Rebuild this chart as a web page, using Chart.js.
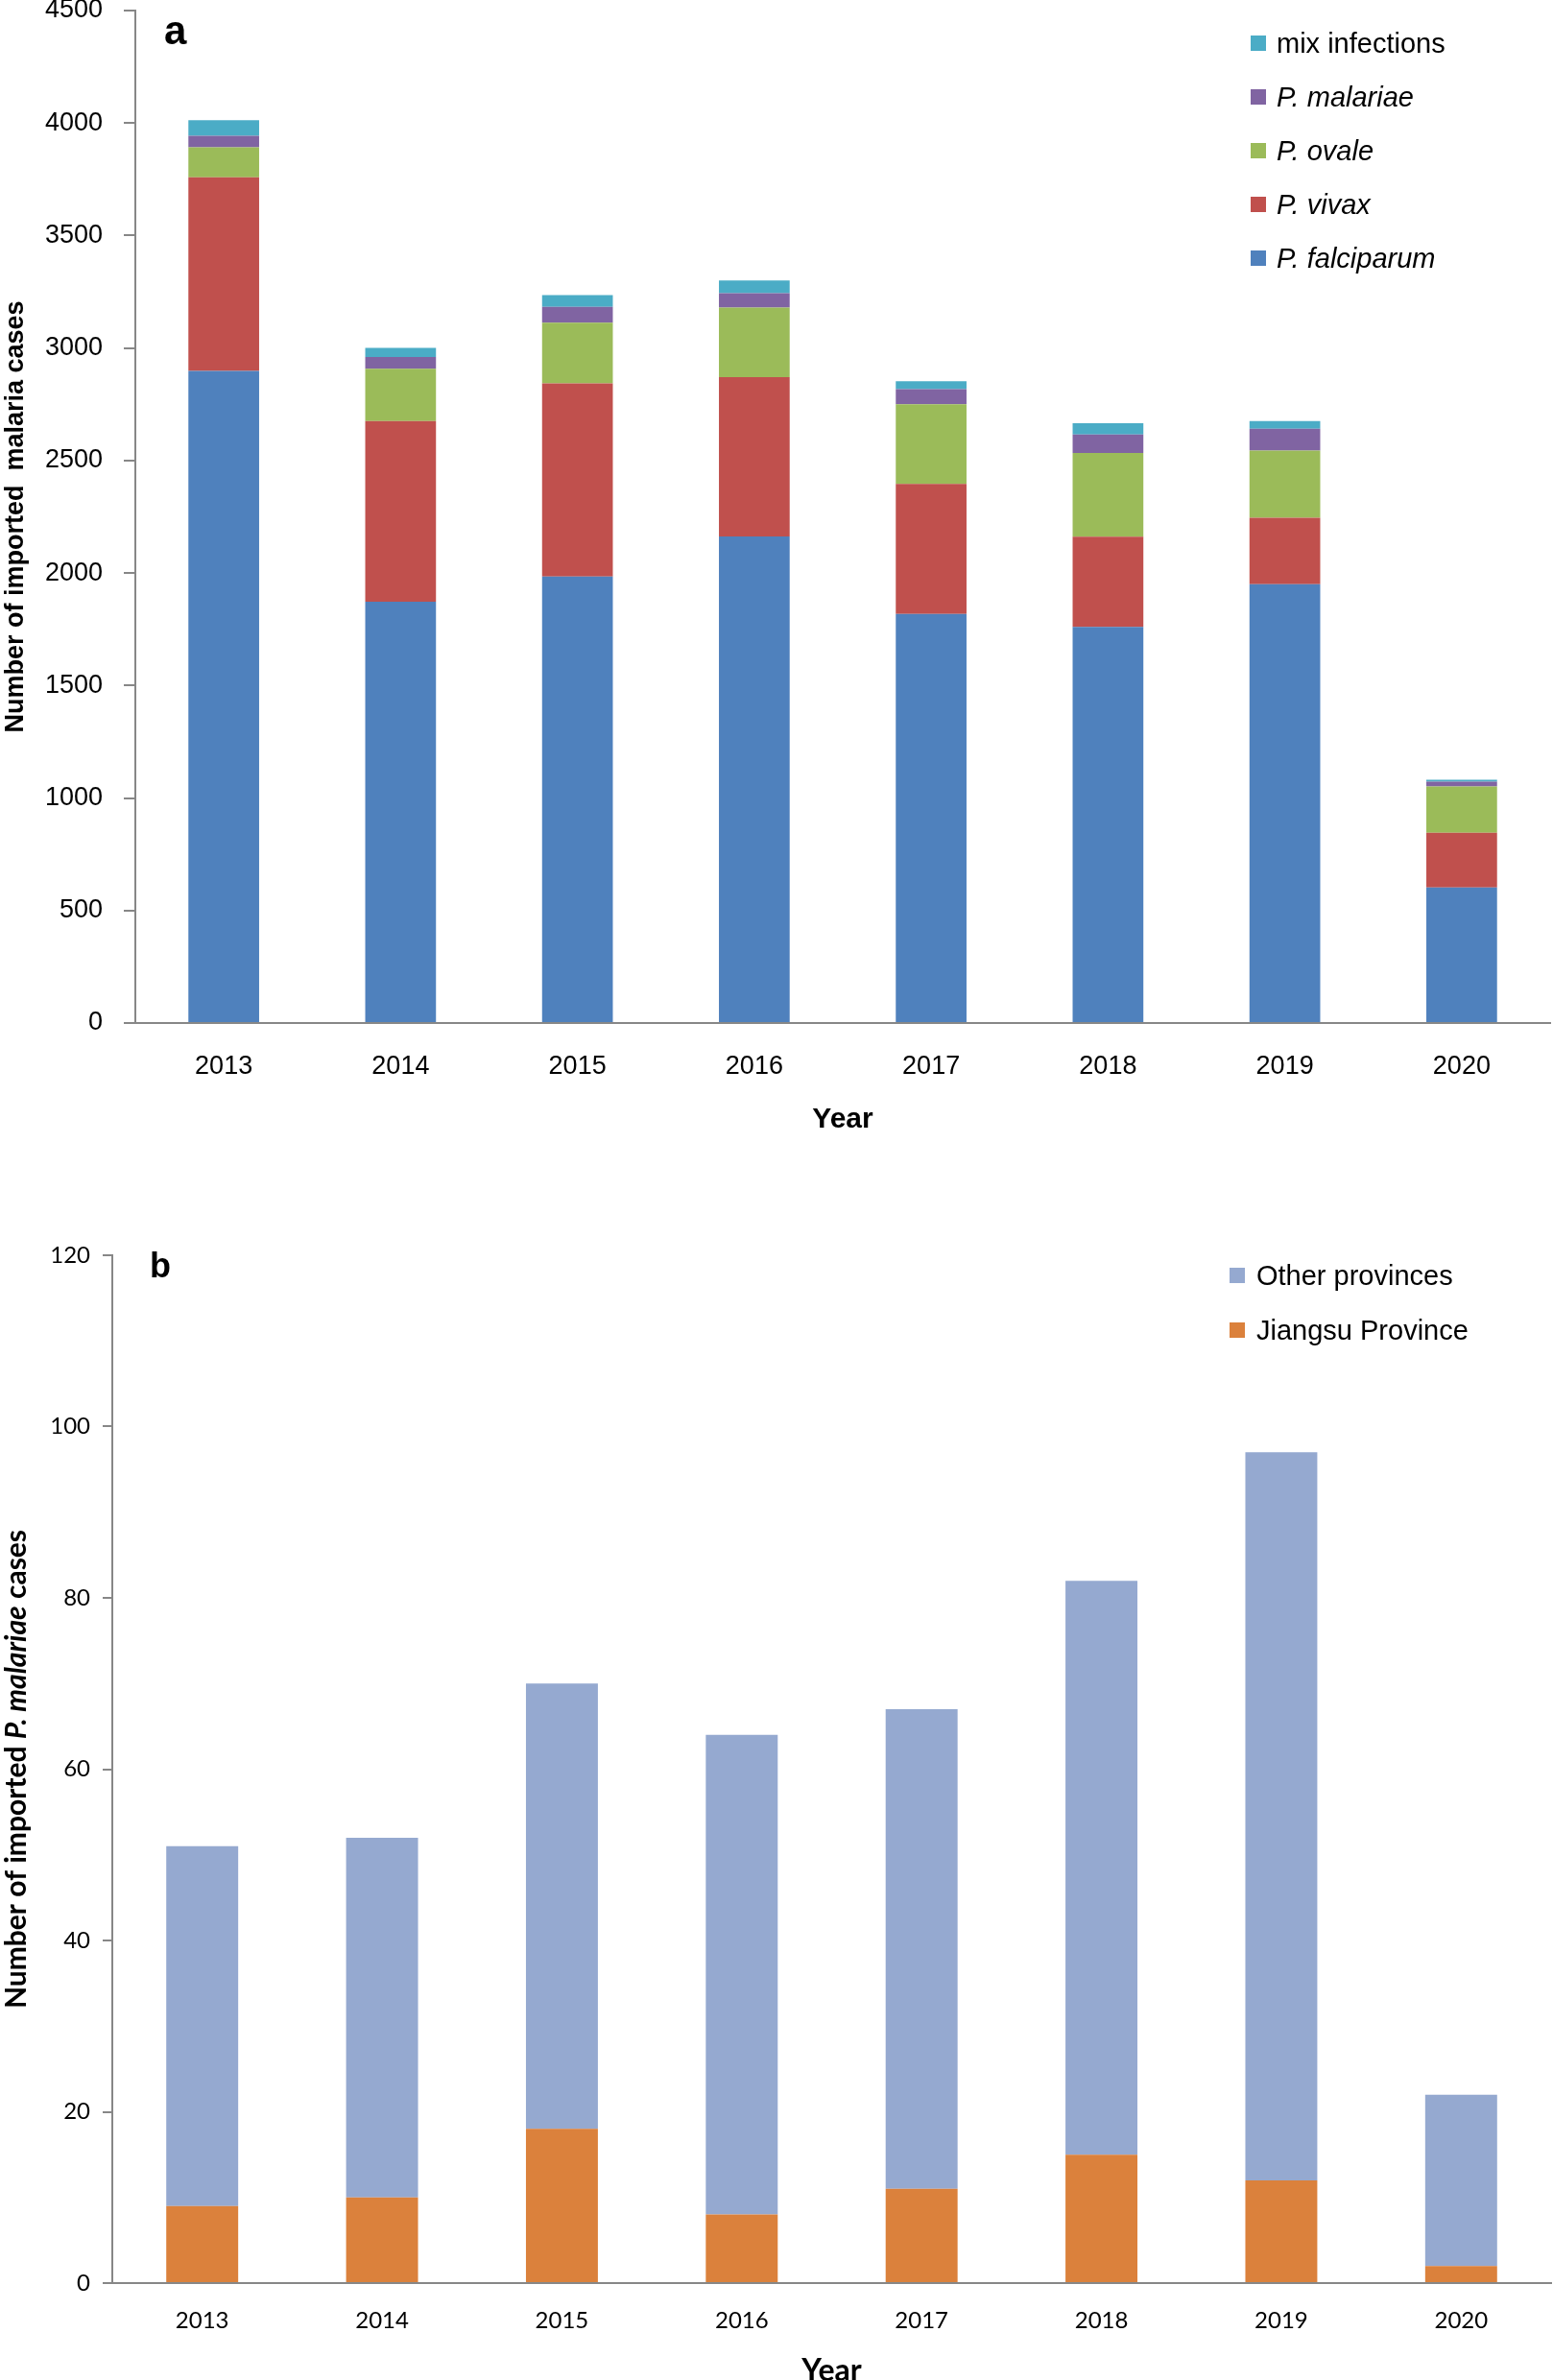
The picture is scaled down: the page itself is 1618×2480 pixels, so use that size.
<!DOCTYPE html>
<html><head><meta charset="utf-8">
<script src="https://cdn.jsdelivr.net/npm/chart.js@4.4.1/dist/chart.umd.min.js"></script>
<style>
html,body{margin:0;padding:0;background:#fff;overflow:hidden;width:1618px;height:2480px;position:relative;}
canvas{position:absolute;left:0;}
#c1{top:0;}
#c2{top:1240px;}
.leg{position:absolute;height:40px;line-height:40px;white-space:nowrap;color:#000;}
.sw{position:absolute;top:12px;width:16px;height:16px;}
.lt{position:absolute;top:0;}
</style>
</head><body>
<canvas id="c1" width="1618" height="1200" style="width:1618px;height:1200px"></canvas>
<canvas id="c2" width="1618" height="1260" style="width:1618px;height:1260px"></canvas>
<div id="legA"></div>
<div id="legB"></div>
<script>
// ---------- data ----------
const years = ['2013','2014','2015','2016','2017','2018','2019','2020'];
const falciparum = [2898, 1873, 1984, 2163, 1818, 1761, 1950, 603];
const vivax      = [861, 803, 859, 708, 578, 401, 296, 243];
const ovale      = [133, 232, 270, 309, 354, 372, 298, 205];
const malariae   = [51, 52, 70, 64, 67, 82, 97, 22];
const mixInf     = [70, 41, 52, 56, 36, 50, 35, 8];
const jiangsu    = [9, 10, 18, 8, 11, 15, 12, 2];
const otherProv  = [42, 42, 52, 56, 56, 67, 85, 20];
const yTicksA = [0, 500, 1000, 1500, 2000, 2500, 3000, 3500, 4000, 4500];
const yTicksB = [0, 20, 40, 60, 80, 100, 120];

const legendA = [
  {label:'mix infections', color:'#4BACC6', italic:false},
  {label:'P. malariae', color:'#8064A2', italic:true},
  {label:'P. ovale', color:'#9BBB59', italic:true},
  {label:'P. vivax', color:'#C0504D', italic:true},
  {label:'P. falciparum', color:'#4F81BD', italic:true}
];
const legendB = [
  {label:'Other provinces', color:'#95A9D0'},
  {label:'Jiangsu Province', color:'#DB813C'}
];

const AXIS = '#878787';

const panelLetter = {
  id: 'panelLetter',
  afterDraw(chart, args, o) {
    const ctx = chart.ctx;
    ctx.save();
    ctx.font = o.font; ctx.fillStyle = '#000'; ctx.textBaseline = 'alphabetic'; ctx.textAlign = 'left';
    ctx.fillText(o.text, o.x, o.y);
    ctx.restore();
  }
};

const mixedTitle = {
  id: 'mixedTitle',
  afterDraw(chart, args, o) {
    if (!o.parts) return;
    const ctx = chart.ctx;
    const ys = chart.scales.y;
    const cy = (ys.top + ys.bottom) / 2;
    ctx.save();
    let total = 0;
    o.parts.forEach(p => { ctx.font = p[1]; total += ctx.measureText(p[0]).width; });
    ctx.translate(o.x, cy);
    ctx.rotate(-Math.PI / 2);
    ctx.fillStyle = '#000'; ctx.textBaseline = 'middle'; ctx.textAlign = 'left';
    let x = -total / 2;
    o.parts.forEach(p => { ctx.font = p[1]; ctx.fillText(p[0], x, 0); x += ctx.measureText(p[0]).width; });
    ctx.restore();
  }
};

function fixY(w){ return s => { s.width = w; s.paddingTop = 0; s.paddingBottom = 0; }; }
function fixX(h){ return s => { s.height = h; s.paddingLeft = 0; s.paddingRight = 0; }; }
const plain = v => String(v);

// ---------- chart a ----------
const fA = "'Liberation Sans', Arial, sans-serif";
new Chart(document.getElementById('c1'), {
  type: 'bar',
  data: {
    labels: years,
    datasets: [
      {label:'P. falciparum', data: falciparum, backgroundColor:'#4F81BD'},
      {label:'P. vivax', data: vivax, backgroundColor:'#C0504D'},
      {label:'P. ovale', data: ovale, backgroundColor:'#9BBB59'},
      {label:'P. malariae', data: malariae, backgroundColor:'#8064A2'},
      {label:'mix infections', data: mixInf, backgroundColor:'#4BACC6'}
    ]
  },
  options: {
    responsive:false, animation:false, devicePixelRatio:1,
    layout:{padding:{top:11,right:3,left:0,bottom:0}},
    datasets:{bar:{categoryPercentage:1.0, barPercentage:0.4, borderWidth:0}},
    plugins:{legend:{display:false}, tooltip:{enabled:false},
      panelLetter:{text:'a', x:171, y:46, font:"bold 42px 'Liberation Sans', Arial"},
      mixedTitle:{}},
    scales:{
      x:{stacked:true, afterFit: fixX(134),
        grid:{display:false, drawTicks:false},
        border:{display:true, color:AXIS, width:2},
        ticks:{color:'#000', font:{family:fA, size:27}, padding:29},
        title:{display:true, text:'Year', color:'#000', font:{family:fA, size:30, weight:'bold', lineHeight:1.2}, padding:{top:0,bottom:15}}
      },
      y:{stacked:true, min:0, max:4500, afterFit: fixY(141),
        afterBuildTicks: s => { s.ticks = yTicksA.map(v => ({value:v})); },
        grid:{display:true, drawOnChartArea:false, drawTicks:true, tickLength:12, color:AXIS, lineWidth:2},
        border:{display:true, color:AXIS, width:2},
        ticks:{color:'#000', font:{family:fA, size:27}, padding:22, callback: plain},
        title:{display:true, text:'Number of imported  malaria cases', color:'#000', font:{family:fA, size:27, weight:'bold', lineHeight:1.1}, padding:{top:2,bottom:0}}
      }
    }
  },
  plugins:[panelLetter, mixedTitle]
});

// ---------- chart b ----------
const fB = "Lato, 'Open Sans', sans-serif";
new Chart(document.getElementById('c2'), {
  type: 'bar',
  data: {
    labels: years,
    datasets: [
      {label:'Jiangsu Province', data: jiangsu, backgroundColor:'#DB813C'},
      {label:'Other provinces', data: otherProv, backgroundColor:'#95A9D0'}
    ]
  },
  options: {
    responsive:false, animation:false, devicePixelRatio:1,
    layout:{padding:{top:68,right:2,left:0,bottom:0}},
    datasets:{bar:{categoryPercentage:1.0, barPercentage:0.4, borderWidth:0}},
    plugins:{legend:{display:false}, tooltip:{enabled:false},
      panelLetter:{text:'b', x:156, y:91, font:"bold 36px 'Liberation Sans', Arial"},
      mixedTitle:{x:17, parts:[['Number of imported ', "bold 30px Lato"], ['P. malariae', "italic bold 30px Lato"], [' cases', "bold 30px Lato"]]}},
    scales:{
      x:{stacked:true, afterFit: fixX(121),
        grid:{display:false, drawTicks:false},
        border:{display:true, color:AXIS, width:2},
        ticks:{color:'#000', font:{family:fB, size:24}, padding:25},
        title:{display:true, text:'Year', color:'#000', font:{family:fB, size:32, weight:'bold', lineHeight:1.2}, padding:{top:0,bottom:10}}
      },
      y:{stacked:true, min:0, max:120, afterFit: fixY(117),
        afterBuildTicks: s => { s.ticks = yTicksB.map(v => ({value:v})); },
        grid:{display:true, drawOnChartArea:false, drawTicks:true, tickLength:10, color:AXIS, lineWidth:2},
        border:{display:true, color:AXIS, width:2},
        ticks:{color:'#000', font:{family:fB, size:24}, padding:13, callback: plain},
        title:{display:false}
      }
    }
  },
  plugins:[panelLetter, mixedTitle]
});

// ---------- legends ----------
function buildLegend(id, items, opt){
  const host = document.getElementById(id);
  items.forEach((it, i) => {
    const row = document.createElement('div');
    row.className = 'leg';
    row.style.left = opt.x + 'px';
    row.style.top = (opt.y0 + i*opt.dy - 20) + 'px';
    row.style.font = (it.italic ? 'italic ' : '') + opt.size + 'px ' + opt.family;
    row.style.lineHeight = '40px';
    const sw = document.createElement('div');
    sw.className = 'sw'; sw.style.left = '0px'; sw.style.background = it.color;
    const t = document.createElement('span');
    t.className = 'lt'; t.style.left = opt.tx + 'px'; t.textContent = it.label;
    row.appendChild(sw); row.appendChild(t);
    host.appendChild(row);
  });
}
buildLegend('legA', legendA, {x:1303, y0:45, dy:56, tx:27, size:29, family:"'Liberation Sans', Arial, sans-serif"});
buildLegend('legB', legendB, {x:1281, y0:1329, dy:57, tx:28, size:29, family:"'Liberation Sans', Arial, sans-serif"});
</script>
</body></html>
